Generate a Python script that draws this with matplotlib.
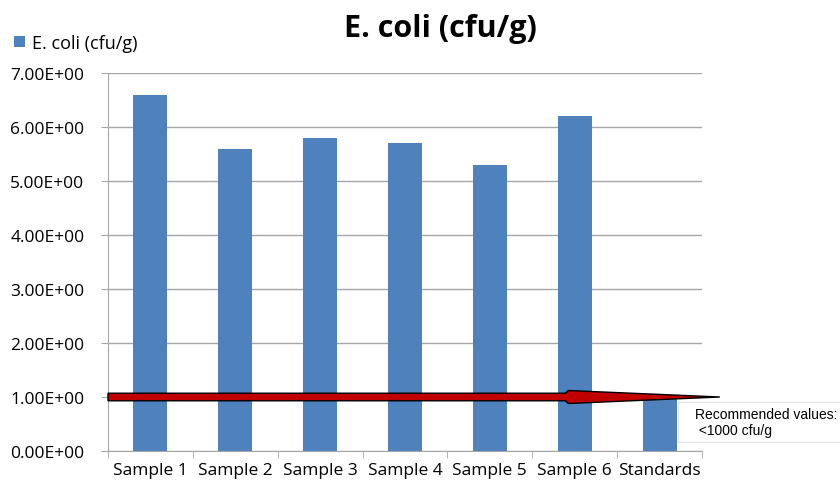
import matplotlib.pyplot as plt
from matplotlib.patches import Polygon
import matplotlib.transforms as mtransforms

categories = ["Sample 1", "Sample 2", "Sample 3", "Sample 4", "Sample 5", "Sample 6", "Standards"]
ecoli = [6.6, 5.6, 5.8, 5.7, 5.3, 6.2, 1.0]
limit = 1.0

bar_color = "#4F81BD"
grid_color = "#A6A6A6"

fig = plt.figure(figsize=(8.4, 4.89), dpi=100)
ax = fig.add_axes([108 / 840, 1 - 452 / 489, 594 / 840, 378 / 489])

x = range(len(categories))
ax.bar(x, ecoli, width=0.4, color=bar_color, label="E. coli (cfu/g)", zorder=2)

ax.set_xlim(-0.5, len(categories) - 0.5)
ax.set_ylim(0, 7)
ax.set_yticks(range(8))
ax.set_yticklabels([f"{v:.2f}E+00" for v in range(8)], fontfamily="Open Sans", fontsize=12.5)
ax.set_xticks(list(x))
ax.set_xticklabels(categories, fontfamily="Open Sans", fontsize=12.5)
ax.set_xticks([i - 0.5 for i in range(len(categories) + 1)], minor=True)
ax.tick_params(axis="x", which="major", length=0, pad=8)
ax.tick_params(axis="x", which="minor", length=5, color=grid_color)
ax.tick_params(axis="y", length=5, color=grid_color, pad=12)

ax.grid(axis="y", color=grid_color, linewidth=1, zorder=0)
for side in ["top", "right"]:
    ax.spines[side].set_visible(False)
for side in ["left", "bottom"]:
    ax.spines[side].set_color(grid_color)

fig.text(440 / 840, 1 - 29 / 489, "E. coli (cfu/g)", fontfamily="Open Sans", fontweight="bold",
         fontsize=22, ha="center", va="center")

ax.legend(loc="center left", bbox_to_anchor=(5 / 594 - 108 / 594, 1 + 30 / 378), frameon=False,
          handlelength=0.6, handleheight=0.6, handletextpad=0.4, borderpad=0,
          prop={"family": "Open Sans", "size": 13})

# red limit arrow: x in axes fraction, y in data units
trans = mtransforms.blended_transform_factory(ax.transAxes, ax.transData)
shaft = 0.07
head = 0.12
x_head = 0.77
x_tip = 1.03
arrow = Polygon([(0, limit - shaft), (x_head, limit - shaft), (x_head + 0.005, limit - head),
                 (x_tip, limit), (x_head + 0.005, limit + head), (x_head, limit + shaft),
                 (0, limit + shaft)],
                closed=True, transform=trans, facecolor="#C00000", edgecolor="black",
                linewidth=1, clip_on=False, zorder=4)
ax.add_patch(arrow)

# note box running off the right edge
fig.patches.append(plt.Rectangle((678 / 840, 1 - 443 / 489), 200 / 840, 40 / 489,
                                 transform=fig.transFigure, facecolor="white",
                                 edgecolor="#E6E6E6", linewidth=1, zorder=5))
fig.text(695 / 840, 1 - 423 / 489, "Recommended values:\n <1000 cfu/g", fontfamily="Liberation Sans",
         fontsize=10, va="center", ha="left", zorder=6, linespacing=1.1)

fig.savefig("out.png", dpi=100)
